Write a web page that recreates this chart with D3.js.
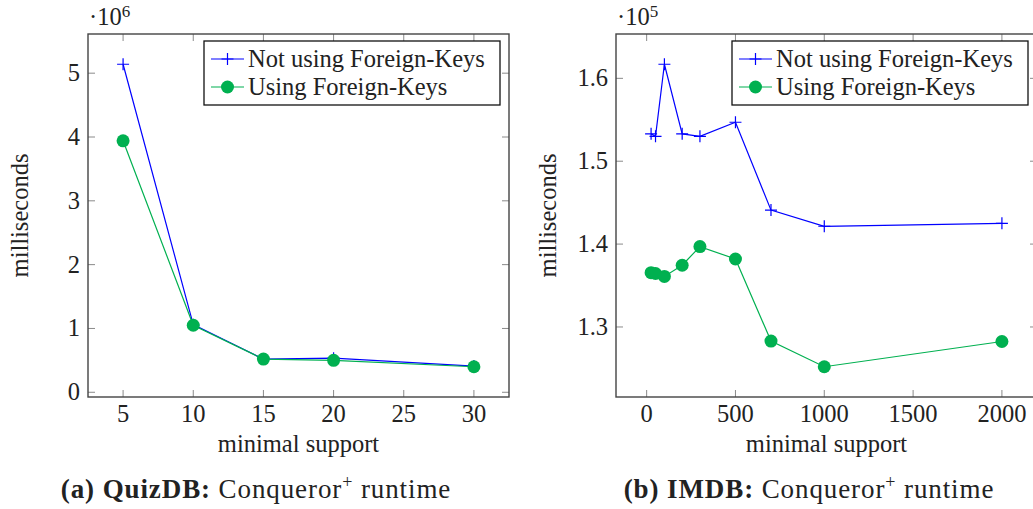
<!DOCTYPE html>
<html>
<head>
<meta charset="utf-8">
<script src="https://cdn.jsdelivr.net/npm/d3@7"></script>
<style>
  body { margin: 0; background: #fff; }
  svg { display: block; }
</style>
</head>
<body>
<svg id="chart" width="1033" height="509"></svg>
<script>
// QuizDB panel
const quizSupport = [5, 10, 15, 20, 30];
const quizNoFK = [5.14e6, 1.06e6, 0.52e6, 0.535e6, 0.41e6];
const quizFK = [3.94e6, 1.05e6, 0.52e6, 0.50e6, 0.40e6];
const quizXTicks = [5, 10, 15, 20, 25, 30];
const quizYTicks = [0, 1e6, 2e6, 3e6, 4e6, 5e6];

// IMDB panel
const imdbSupport = [25, 50, 100, 200, 300, 500, 700, 1000, 2000];
const imdbNoFK = [153300, 153000, 161700, 153300, 153000, 154700, 144100, 142150, 142500];
const imdbFK = [136550, 136450, 136100, 137450, 139700, 138200, 128300, 125200, 128250];
const imdbXTicks = [0, 500, 1000, 1500, 2000];
const imdbYTicks = [1.3e5, 1.4e5, 1.5e5, 1.6e5];

const seriesNames = ['Not using Foreign-Keys', 'Using Foreign-Keys'];
const blue = '#0000ff';
const green = '#00b050';
const serif = "'Liberation Serif', 'Times New Roman', Times, serif";

const svg = d3.select('#chart')
  .attr('font-family', serif)
  .attr('fill', '#222');

// pgfplots style: enlarge limits by 10% of the data range
function enlarged(vals) {
  const [lo, hi] = d3.extent(vals);
  const pad = (hi - lo) * 0.1;
  return [lo - pad, hi + pad];
}

function drawPanel(p) {
  const g = svg.append('g');
  const x = d3.scaleLinear().domain(enlarged(p.xs)).range([p.left, p.right]);
  const y = d3.scaleLinear().domain(enlarged(p.a.concat(p.b))).range([p.bottom, p.top]);
  const tl = 7;
  const fs = 24.5;

  // ticks on all four sides, pointing in
  const tickStyle = sel => sel.attr('stroke', '#8a8a8a').attr('stroke-width', 1);
  g.selectAll('.xt').data(p.xTicks).enter().append('path')
    .attr('d', d => `M${x(d)},${p.bottom}v${-tl}M${x(d)},${p.top}v${tl}`)
    .call(tickStyle);
  g.selectAll('.yt').data(p.yTicks).enter().append('path')
    .attr('d', d => `M${p.left},${y(d)}h${tl}M${p.right},${y(d)}h${-tl}`)
    .call(tickStyle);

  g.selectAll('.xl').data(p.xTicks).enter().append('text')
    .attr('x', d => x(d)).attr('y', p.bottom + 24.5)
    .attr('text-anchor', 'middle').attr('font-size', fs)
    .text(d => d);
  g.selectAll('.yl').data(p.yTicks).enter().append('text')
    .attr('x', p.left - 8).attr('y', d => y(d) + 8)
    .attr('text-anchor', 'end').attr('font-size', fs)
    .text(d => p.yFmt(d / p.scale));

  // scale note above the axis
  const note = g.append('text').attr('x', p.left + 1).attr('y', 25).attr('font-size', fs);
  note.append('tspan').text('\u00b710');
  note.append('tspan').attr('dy', -8).attr('font-size', 17).text(p.exp);

  // axis labels
  g.append('text')
    .attr('transform', `translate(${p.left - 60},${(p.top + p.bottom) / 2}) rotate(-90)`)
    .attr('text-anchor', 'middle').attr('font-size', fs)
    .text('milliseconds');
  g.append('text')
    .attr('x', (p.left + p.right) / 2).attr('y', p.bottom + 55)
    .attr('text-anchor', 'middle').attr('font-size', fs)
    .text('minimal support');

  // lines and markers
  const line = d3.line().x(d => x(d[0])).y(d => y(d[1]));
  const ptsA = p.xs.map((v, i) => [v, p.a[i]]);
  const ptsB = p.xs.map((v, i) => [v, p.b[i]]);

  g.append('path').datum(ptsA).attr('d', line)
    .attr('fill', 'none').attr('stroke', blue).attr('stroke-width', 1.2);
  g.selectAll('.cross').data(ptsA).enter().append('path')
    .attr('d', d => `M${x(d[0]) - 6},${y(d[1])}h12M${x(d[0])},${y(d[1]) - 6}v12`)
    .attr('stroke', blue).attr('stroke-width', 1.2);

  g.append('path').datum(ptsB).attr('d', line)
    .attr('fill', 'none').attr('stroke', green).attr('stroke-width', 1.2);
  g.selectAll('.dot').data(ptsB).enter().append('circle')
    .attr('cx', d => x(d[0])).attr('cy', d => y(d[1])).attr('r', 6.5)
    .attr('fill', green);

  // frame
  g.append('rect')
    .attr('x', p.left).attr('y', p.top)
    .attr('width', p.right - p.left).attr('height', p.bottom - p.top)
    .attr('fill', 'none').attr('stroke', '#444').attr('stroke-width', 1.4);

  // legend
  const lx = p.right - 305, ly = 41;
  const leg = g.append('g');
  leg.append('rect').attr('x', lx).attr('y', ly).attr('width', 296).attr('height', 64)
    .attr('fill', '#fff').attr('stroke', '#111').attr('stroke-width', 1.3);
  const rows = [{ c: blue, m: 'cross' }, { c: green, m: 'dot' }];
  rows.forEach((r, i) => {
    const ry = ly + 18 + i * 28;
    leg.append('path').attr('d', `M${lx + 7},${ry}h33`).attr('stroke', r.c).attr('stroke-width', 1.2);
    if (r.m === 'cross') {
      leg.append('path').attr('d', `M${lx + 17.5},${ry}h12M${lx + 23.5},${ry - 6}v12`)
        .attr('stroke', r.c).attr('stroke-width', 1.2);
    } else {
      leg.append('circle').attr('cx', lx + 23.5).attr('cy', ry).attr('r', 6.5).attr('fill', r.c);
    }
    leg.append('text').attr('x', lx + 44).attr('y', ry + 7.5).attr('font-size', fs)
      .text(seriesNames[i]);
  });

  // caption
  const cap = g.append('text').attr('x', p.capX).attr('y', 498)
    .attr('text-anchor', 'middle').attr('font-size', 27)
    .attr('letter-spacing', 0.9);
  cap.append('tspan').attr('font-weight', 'bold').text(p.capBold);
  cap.append('tspan').text(' Conqueror');
  cap.append('tspan').attr('dy', -10).attr('font-size', 18).text('+');
  cap.append('tspan').attr('dy', 10).text(' runtime');
}

drawPanel({
  xs: quizSupport, a: quizNoFK, b: quizFK,
  xTicks: quizXTicks, yTicks: quizYTicks,
  scale: 1e6, exp: '6', yFmt: d3.format('d'),
  left: 88, right: 509, top: 34, bottom: 397,
  capX: 256, capBold: '(a) QuizDB:'
});

drawPanel({
  xs: imdbSupport, a: imdbNoFK, b: imdbFK,
  xTicks: imdbXTicks, yTicks: imdbYTicks,
  scale: 1e5, exp: '5', yFmt: d3.format('.1f'),
  left: 616, right: 1037, top: 34, bottom: 397,
  capX: 809, capBold: '(b) IMDB:'
});
</script>
</body>
</html>
